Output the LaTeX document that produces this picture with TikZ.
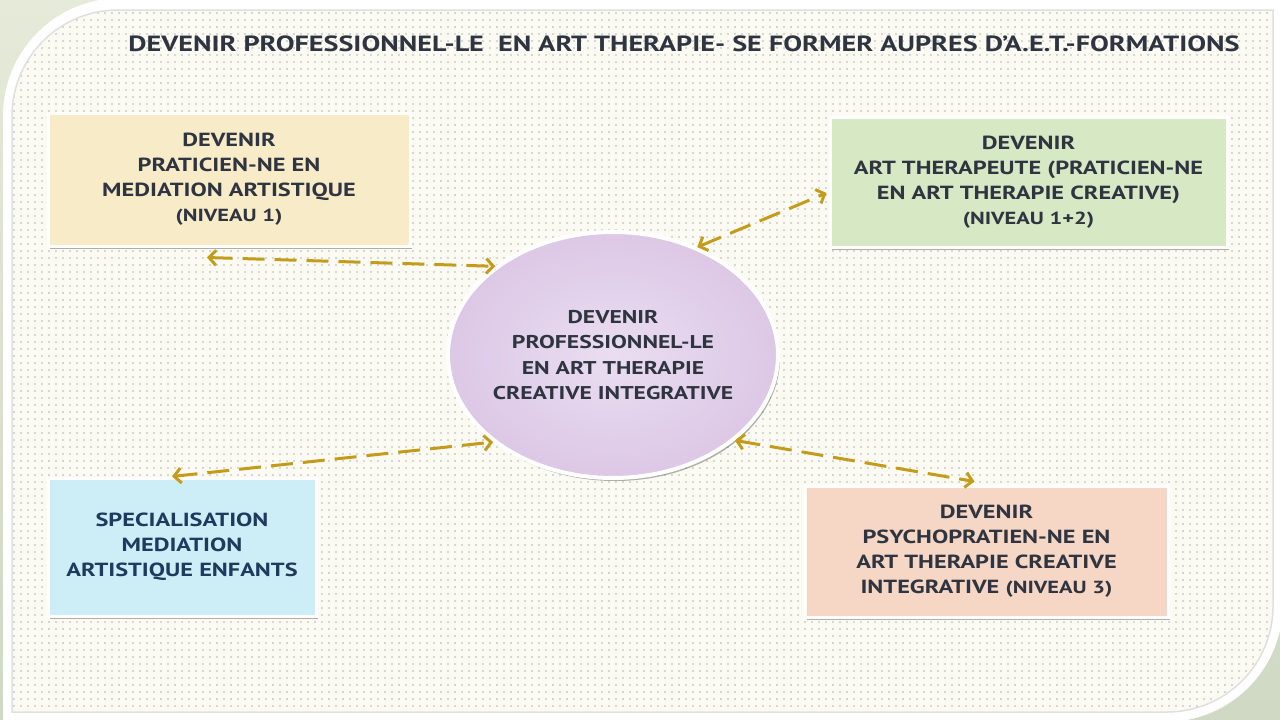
\documentclass[tikz,border=0pt]{standalone}
\usepackage{fontspec}
\setmainfont{PT Sans}
\newfontfamily\widefont[FakeStretch=1.28]{PT Sans}
\usetikzlibrary{shapes.geometric,arrows.meta,shadows,patterns.meta}
\definecolor{bgA}{HTML}{E6EAD8}
\definecolor{bgB}{HTML}{CFD9C4}
\definecolor{paper}{HTML}{FBFBF4}
\definecolor{ink}{HTML}{2F3540}
\definecolor{navy}{HTML}{1F3A5F}
\definecolor{gold}{HTML}{C59B1A}
\definecolor{cYel}{HTML}{F8ECC8}
\definecolor{cGrn}{HTML}{D7E8C5}
\definecolor{cBlu}{HTML}{CDEEF6}
\definecolor{cPch}{HTML}{F6D6C4}
\definecolor{cLavIn}{HTML}{EADDF1}
\definecolor{cLavOut}{HTML}{DCC8E6}
\tikzset{
  boxbase/.style={rectangle, draw=white, line width=3pt, align=center, text=ink,
    font=\widefont\fontsize{19}{25}\selectfont\bfseries,
    drop shadow={shadow xshift=2pt,shadow yshift=-3pt,opacity=.3,fill=black},
    path picture={\draw[black,opacity=.15,line width=3pt]
      (path picture bounding box.south west) -- (path picture bounding box.south east)
      -- (path picture bounding box.north east);}},
  centre/.style={ellipse, draw=white, line width=4pt, inner sep=0pt,
    inner color=cLavIn, outer color=cLavOut,
    drop shadow={shadow xshift=2pt,shadow yshift=-3pt,opacity=.3,fill=black}},
  centretext/.style={align=center, text=ink,
    font=\widefont\fontsize{18.5}{25.5}\selectfont\bfseries},
  arr/.style={draw=gold, line width=3pt, dash pattern=on 22pt off 10pt,
    {Straight Barb[length=7pt,width=15pt]}-{Straight Barb[length=7pt,width=15pt]}}
}
\newcommand{\smalltxt}[1]{{\fontsize{17.5}{20}\selectfont #1}}
\begin{document}
\begin{tikzpicture}[x=1pt,y=-1pt]
\useasboundingbox (0,0) rectangle (1280,720);
% outer background
\shade[top color=bgA, bottom color=bgB] (0,0) rectangle (1280,720);
% white panel
\fill[white] (3,740) -- (3,116) arc[start angle=180,end angle=270,radius=118]
  -- (1283,-2) -- (1283,604)
  arc[start angle=0,end angle=90,radius=118] -- (3,722) -- cycle;
% dotted paper
\path[fill=paper] (12,712) -- (12,116) arc[start angle=180,end angle=270,radius=106]
  -- (1273,10) -- (1273,606) arc[start angle=0,end angle=90,radius=106] -- cycle;
\path[pattern={Dots[distance=7pt,radius=0.6pt]}, pattern color=black!60]
  (12,712) -- (12,116) arc[start angle=180,end angle=270,radius=106]
  -- (1273,10) -- (1273,606) arc[start angle=0,end angle=90,radius=106] -- cycle;
\draw[black!12, line width=1.5pt] (12,712) -- (12,116) arc[start angle=180,end angle=270,radius=106]
  -- (1273,10) -- (1273,606) arc[start angle=0,end angle=90,radius=106] -- cycle;

% title
\node[text=ink, font=\widefont\fontsize{22}{26}\selectfont\bfseries] (title) at (684,44)
  {DEVENIR PROFESSIONNEL-LE\ \ EN ART THERAPIE- SE FORMER AUPRES D’A.E.T.-FORMATIONS};

% boxes
\node[boxbase, fill=cYel, minimum width=362pt, minimum height=133pt] (yel) at (229,179.5)
  {DEVENIR\\PRATICIEN-NE EN\\MEDIATION ARTISTIQUE\\\smalltxt{(NIVEAU 1)}};
\node[boxbase, fill=cGrn, minimum width=397pt, minimum height=130pt] (grn) at (1028.5,182)
  {DEVENIR\\ART THERAPEUTE (PRATICIEN-NE\\EN ART THERAPIE CREATIVE)\\\smalltxt{(NIVEAU 1+2)}};
\node[boxbase, fill=cBlu, text=navy, minimum width=268pt, minimum height=138pt] (blu) at (182,547)
  {SPECIALISATION\\MEDIATION\\ARTISTIQUE ENFANTS};
\node[boxbase, fill=cPch, minimum width=363pt, minimum height=131pt] (pch) at (986.5,551.5)
  {DEVENIR\\PSYCHOPRATIEN-NE EN\\ART THERAPIE CREATIVE\\INTEGRATIVE \smalltxt{(NIVEAU 3)}};

% centre
\node[centre, minimum width=330pt, minimum height=246pt] (c) at (613,355) {};
\node[centretext] (ct) at (c.center)
  {DEVENIR\\PROFESSIONNEL-LE\\EN ART THERAPIE\\CREATIVE INTEGRATIVE};

% connectors
\draw[arr] ([xshift=-22pt,yshift=-10pt]yel.south) -- (c.143);
\draw[arr] (c.52) -- ([xshift=-2pt,yshift=-11pt]grn.west);
\draw[arr] ([xshift=-10pt]blu.north) -- (c.216);
\draw[arr] (c.-35.5) -- ([xshift=-12pt,yshift=3pt]pch.north);
\end{tikzpicture}
\end{document}
